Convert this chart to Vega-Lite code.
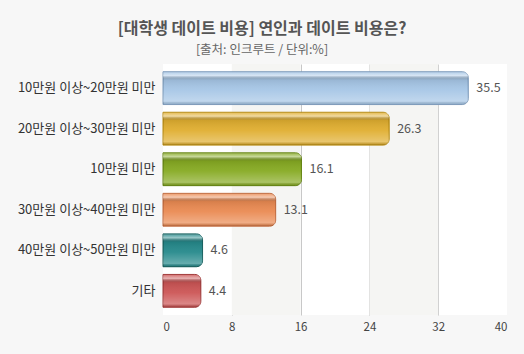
{
  "$schema": "https://vega.github.io/schema/vega-lite/v6.json",
  "width": 344,
  "height": 251,
  "autosize": {"type": "none"},
  "padding": {"left": 163, "top": 64, "right": 17, "bottom": 39},
  "background": "#f7f7f7",
  "config": {
    "font": "Noto Sans CJK KR",
    "view": {"fill": "#ffffff", "stroke": null}
  },
  "title": {
    "text": "[대학생 데이트 비용] 연인과 데이트 비용은?",
    "subtitle": "[출처: 인크루트 / 단위:%]",
    "fontSize": 16,
    "fontWeight": "bold",
    "color": "#555555",
    "subtitleFontSize": 12.5,
    "subtitleColor": "#666666",
    "subtitlePadding": 7,
    "anchor": "middle",
    "dx": -73,
    "offset": 8
  },
  "datasets": {
    "bars": [
      {"category": "10만원 이상~20만원 미만", "value": 35.5},
      {"category": "20만원 이상~30만원 미만", "value": 26.3},
      {"category": "10만원 미만", "value": 16.1},
      {"category": "30만원 이상~40만원 미만", "value": 13.1},
      {"category": "40만원 이상~50만원 미만", "value": 4.6},
      {"category": "기타", "value": 4.4}
    ],
    "bands": [
      {"start": 8, "end": 16},
      {"start": 24, "end": 32}
    ]
  },
  "layer": [
    {
      "data": {"name": "bands"},
      "mark": {"type": "rect", "color": "#f5f5f3"},
      "encoding": {
        "x": {"field": "start", "type": "quantitative", "scale": {"domain": [0, 40]}},
        "x2": {"field": "end"}
      }
    },
    {
      "data": {"name": "bars"},
      "layer": [
        {
          "mark": {"type": "bar", "cornerRadiusEnd": 6, "strokeWidth": 1},
          "encoding": {
            "y": {
              "field": "category", "type": "nominal", "sort": null,
              "scale": {"paddingInner": 0.19, "paddingOuter": 0.19},
              "axis": {"title": null, "ticks": false, "domain": false, "labelPadding": 8, "labelFontSize": 13, "labelColor": "#333333", "labelFont": "Noto Sans CJK KR"}
            },
            "x": {
              "field": "value", "type": "quantitative",
              "scale": {"domain": [0, 40], "nice": false},
              "axis": {
                "title": null, "values": [0, 8, 16, 24, 32, 40], "ticks": false, "domain": false,
                "labelPadding": 6, "labelFontSize": 11.5, "labelColor": "#444444",
                "gridColor": "#c8c8c8",
                "gridOpacity": {"condition": {"test": "datum.value == 0 || datum.value == 40", "value": 0}, "value": 1}
              }
            },
            "color": {
              "field": "category", "type": "nominal", "sort": null, "legend": null,
              "scale": {
                "domain": ["10만원 이상~20만원 미만", "20만원 이상~30만원 미만", "10만원 미만", "30만원 이상~40만원 미만", "40만원 이상~50만원 미만", "기타"],
                "range": ["#a6c6e6", "#e0ae30", "#86aa22", "#ea8a52", "#25898b", "#cc5555"]
              }
            },
            "stroke": {
              "field": "category", "type": "nominal", "sort": null, "legend": null,
              "scale": {
                "domain": ["10만원 이상~20만원 미만", "20만원 이상~30만원 미만", "10만원 미만", "30만원 이상~40만원 미만", "40만원 이상~50만원 미만", "기타"],
                "range": ["#7f9dbd", "#b78a10", "#648410", "#c0683a", "#16605f", "#a03838"]
              }
            }
          }
        },
        {
          "mark": {
            "type": "bar", "cornerRadiusEnd": 6,
            "fill": {
              "gradient": "linear", "x1": 0, "y1": 0, "x2": 0, "y2": 1,
              "stops": [
                {"offset": 0, "color": "rgba(255,255,255,0.15)"},
                {"offset": 0.12, "color": "rgba(255,255,255,0.55)"},
                {"offset": 0.25, "color": "rgba(0,0,0,0.08)"},
                {"offset": 0.55, "color": "rgba(255,255,255,0.05)"},
                {"offset": 0.9, "color": "rgba(255,255,255,0.3)"},
                {"offset": 1, "color": "rgba(0,0,0,0.1)"}
              ]
            }
          },
          "encoding": {
            "y": {"field": "category", "type": "nominal", "sort": null},
            "x": {"field": "value", "type": "quantitative"}
          }
        },
        {
          "mark": {"type": "text", "align": "left", "baseline": "middle", "dx": 8, "fontSize": 12.5, "color": "#555555"},
          "encoding": {
            "y": {"field": "category", "type": "nominal", "sort": null},
            "x": {"field": "value", "type": "quantitative"},
            "text": {"field": "value", "type": "quantitative", "format": ".1f"}
          }
        }
      ]
    }
  ]
}
